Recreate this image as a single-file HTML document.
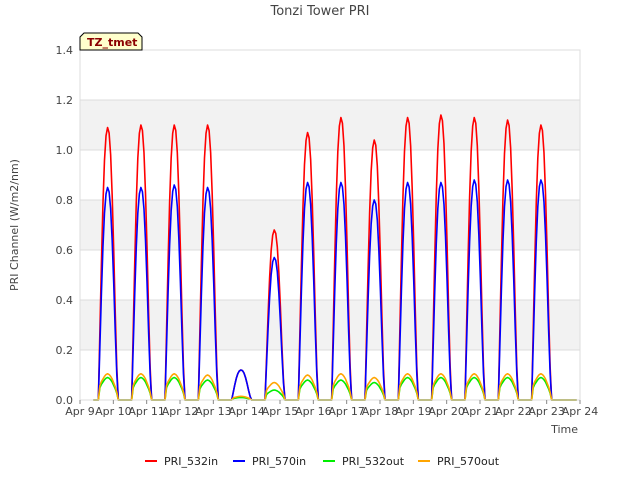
<!DOCTYPE html>
<html><head><meta charset="utf-8"><style>
body{margin:0;background:#fff;font-family:"Liberation Sans","DejaVu Sans",sans-serif}
</style></head><body>
<svg id="c" width="640" height="480" xmlns="http://www.w3.org/2000/svg" font-family="DejaVu Sans, Liberation Sans, sans-serif">
<rect width="640" height="480" fill="#fff"/>
<text x="320" y="15" text-anchor="middle" font-size="13" fill="#444">Tonzi Tower PRI</text>
<g id="bands"></g>
<g id="series"></g>
<g id="axes"></g>
<text x="18" y="225" transform="rotate(-90 18 225)" text-anchor="middle" font-size="11" fill="#444">PRI Channel (W/m2/nm)</text>
<text x="578" y="433" text-anchor="end" font-size="11" fill="#444">Time</text>
<g>
<path d="M80,50 L80,37 L84,33 L138,33 L142,37 L142,50 Z" fill="#ffffcc" stroke="#000" stroke-width="1"/>
<text x="87" y="46" font-size="11" font-weight="bold" fill="#8b0000">TZ_tmet</text></g>
<g id="legend"></g>
</svg>
<script>
const dayLabels=["Apr 9","Apr 10","Apr 11","Apr 12","Apr 13","Apr 14","Apr 15","Apr 16","Apr 17","Apr 18","Apr 19","Apr 20","Apr 21","Apr 22","Apr 23","Apr 24"];
const yTicks=[0,0.2,0.4,0.6,0.8,1.0,1.2,1.4];
const seriesNames=["PRI_532in","PRI_570in","PRI_532out","PRI_570out"];
const seriesColors=["#ff0000","#0000ff","#00ee00","#ffa500"];
const peak532in=[1.09,1.10,1.10,1.10,0.12,0.68,1.07,1.13,1.04,1.13,1.14,1.13,1.12,1.10];
const peak570in=[0.85,0.85,0.86,0.85,0.12,0.57,0.87,0.87,0.80,0.87,0.87,0.88,0.88,0.88];
const peak532out=[0.09,0.09,0.09,0.08,0.01,0.04,0.08,0.08,0.07,0.09,0.09,0.09,0.09,0.09];
const peak570out=[0.105,0.105,0.105,0.10,0.015,0.07,0.10,0.105,0.09,0.105,0.105,0.105,0.105,0.105];
const profileIn=[0,0.25,0.5,0.72,0.88,0.97,1,0.98,0.9,0.75,0.55,0.32,0.12,0];
const profileOut=[0,0.55,0.7,0.8,0.9,0.97,1,0.97,0.9,0.8,0.65,0.5,0.3,0];
const NS="http://www.w3.org/2000/svg";
const X0=80,X1=580,Y0=400,Y1=50;
const xs=d=>X0+(X1-X0)*d/15;
const ys=v=>Y0-(Y0-Y1)*v/1.4;
function el(t,a,p){const e=document.createElementNS(NS,t);for(const k in a)e.setAttribute(k,a[k]);p.appendChild(e);return e;}
const bands=document.getElementById('bands');
const bg=el('rect',{x:X0,y:Y1,width:X1-X0,height:Y0-Y1,fill:'#fff'},bands);


for(let i=0;i<yTicks.length-1;i++){
 if(i%2==1){const r=el('rect',{x:X0,y:ys(yTicks[i+1]),width:X1-X0,height:ys(yTicks[i])-ys(yTicks[i+1]),fill:'#f2f2f2'},bands);
 
 }
}
const axes=document.getElementById('axes');
yTicks.forEach(v=>{
 const l=el('line',{x1:X0,x2:X1,y1:ys(v),y2:ys(v),stroke:'#dcdcdc'},bands);
 
 
 const t=el('text',{x:X0-7,y:ys(v)+4,'text-anchor':'end','font-size':11,fill:'#444'},axes);
 t.textContent=v.toFixed(1);
 
 
});
el('rect',{x:X0,y:Y1,width:X1-X0,height:Y0-Y1,fill:'none',stroke:'#ddd'},axes);
dayLabels.forEach((s,i)=>{
 el('line',{x1:xs(i),x2:xs(i),y1:Y0,y2:Y0+4,stroke:'#888'},axes);
 const t=el('text',{x:xs(i),y:Y0+15,'text-anchor':'middle','font-size':11,fill:'#444'},axes);
 t.textContent=s;
 
 
});
const sg=document.getElementById('series');
const peaks=[peak532in,peak570in,peak532out,peak570out];
const profs=[profileIn,profileIn,profileOut,profileOut];
peaks.forEach((pk,si)=>{
 let pts=[[xs(0.4),ys(0)]];
 pk.forEach((p,d)=>{
  const start=d+0.55,len=0.6,pr=profs[si];
  pr.forEach((f,k)=>{pts.push([xs(start+len*k/(pr.length-1)),ys(p*f)]);});
 });
 pts.push([xs(14.9),ys(0)]);
 const pl=el('polyline',{points:pts.map(p=>p.join(',')).join(' '),fill:'none',stroke:seriesColors[si],'stroke-width':1.6,'stroke-linejoin':'round'},sg);
 
 
});
const lg=document.getElementById('legend');
const lx=[145,233,323,418];
seriesNames.forEach((n,i)=>{
 const g=el('g',{},lg);
 
 
 el('line',{x1:lx[i],x2:lx[i]+12,y1:461,y2:461,stroke:seriesColors[i],'stroke-width':2},g);
 const t=el('text',{x:lx[i]+19,y:465,'font-size':11,fill:'#222'},g);
 t.textContent=n;
});
</script>
</body></html>
